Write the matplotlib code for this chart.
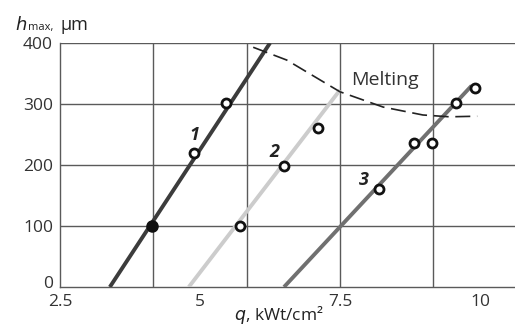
import matplotlib
matplotlib.use("Agg")
import matplotlib.pyplot as plt
from matplotlib.transforms import ScaledTranslation

# straight fit lines (q, h) end points
line1_q = [3.39, 6.25]
line1_h = [0, 400]
line2_q = [4.80, 7.50]
line2_h = [0, 323]
line3_q = [6.50, 9.85]
line3_h = [0, 330]

# measured points
pts_q = [4.89, 5.46, 5.71, 6.50, 7.11, 8.20, 8.82, 9.14, 9.57, 9.91]
pts_h = [220, 302, 100, 198, 261, 160, 236, 236, 302, 326]
filled_q = [4.14]
filled_h = [100]

# melting boundary
melt_q = [5.95, 6.55, 7.50, 8.27, 8.98, 9.46, 9.95]
melt_h = [393, 372, 320, 295, 282, 279, 280]

x_ticks = [2.5, 5, 7.5, 10]
x_grid = [2.5 + 5 / 3 * i for i in range(6)]
y_ticks = [0, 100, 200, 300, 400]

plt.rcParams['font.family'] = ['Open Sans', 'DejaVu Sans']

fig = plt.figure(figsize=(5.15, 3.27), dpi=100)
ax = fig.add_axes([0.1165, 0.1223, 0.8835, 0.7462])
ax.set_xlim(2.5, 10.625)
ax.set_ylim(0, 400)

grid_c = '#5a5a5a'
for g in x_grid[1:]:
    ax.axvline(g, color=grid_c, lw=1.0, zorder=1)
for g in y_ticks[1:]:
    ax.axhline(g, color=grid_c, lw=1.0, zorder=1)

for s in ['top', 'right']:
    ax.spines[s].set_visible(False)
for s in ['left', 'bottom']:
    ax.spines[s].set_color(grid_c)
    ax.spines[s].set_linewidth(1.0)

ax.plot(line1_q, line1_h, color='#3c3c3c', lw=2.8, zorder=3, solid_capstyle='butt')
ax.plot(line2_q, line2_h, color='#cccccc', lw=2.8, zorder=3, solid_capstyle='butt')
ax.plot(line3_q, line3_h, color='#707070', lw=2.8, zorder=3, solid_capstyle='butt')
ax.plot(melt_q, melt_h, color='#222222', lw=1.2, ls=(0, (9, 4)), zorder=3)

ax.plot(pts_q, pts_h, 'o', ms=6.5, mfc='white', mec='#111111', mew=2.0, zorder=4)
ax.plot(filled_q, filled_h, 'o', ms=8, mfc='#111111', mec='#111111', zorder=4)

ax.text(4.9, 250, '1', fontsize=13, fontstyle='italic', fontweight='bold', color='#222222', ha='center', va='center')
ax.text(6.33, 221, '2', fontsize=13, fontstyle='italic', fontweight='bold', color='#222222', ha='center', va='center')
ax.text(7.92, 175, '3', fontsize=13, fontstyle='italic', fontweight='bold', color='#222222', ha='center', va='center')
ax.text(8.3, 340, 'Melting', fontsize=14, color='#333333', ha='center', va='center')

ax.set_xticks(x_ticks)
ax.set_xticklabels(['2.5', '5', '7.5', '10'])
ax.set_yticks(y_ticks)
ax.tick_params(length=0, labelsize=12.5, colors='#333333')
ax.tick_params(axis='x', pad=5)
ax.tick_params(axis='y', pad=5)
# lift the "0" label a little, as in the original
lbl0 = ax.get_yticklabels()[0]
lbl0.set_transform(lbl0.get_transform() + ScaledTranslation(0, 5 / 100, fig.dpi_scale_trans))

# axis titles
fig.text(0.03, 0.925, r'$h$', fontsize=13, color='#222222', ha='left', va='center')
fig.text(0.055, 0.915, 'max,', fontsize=8, color='#222222', ha='left', va='center')
fig.text(0.118, 0.925, 'μm', fontsize=13, color='#222222', ha='left', va='center')
fig.text(279 / 515, 1 - 315 / 327, r'$q$, kWt/cm²', fontsize=12.5, color='#222222',
         ha='center', va='center')

fig.savefig('out.png', dpi=100)
